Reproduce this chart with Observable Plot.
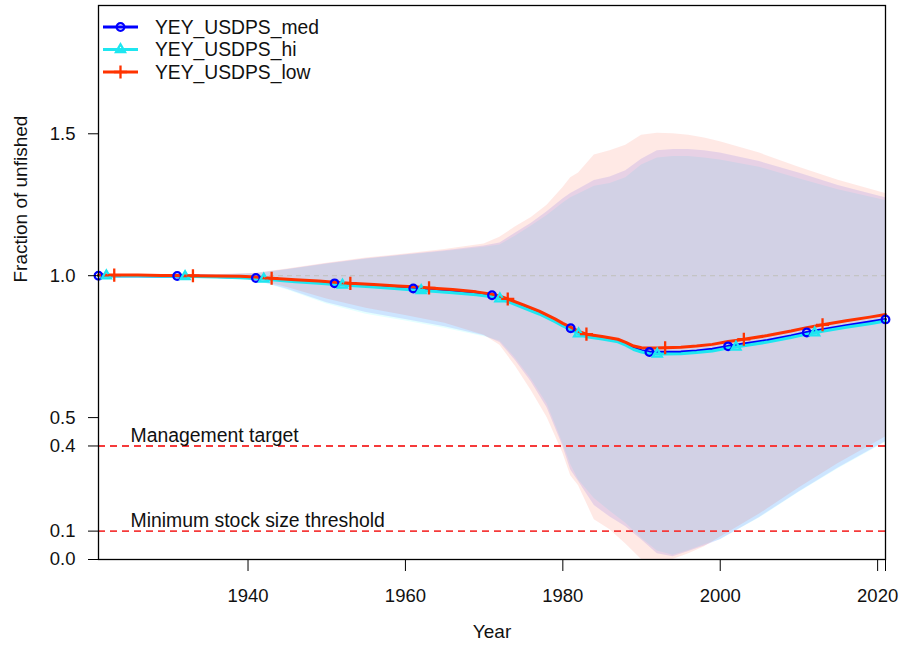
<!DOCTYPE html>
<html>
<head>
<meta charset="utf-8">
<script src="https://cdn.jsdelivr.net/npm/d3@7"></script>
<script src="https://cdn.jsdelivr.net/npm/@observablehq/plot@0.6"></script>
<style>
  html, body { margin: 0; padding: 0; background: #ffffff; }
  #chart svg { display: block; }
</style>
</head>
<body>
<div id="chart"></div>
<script>
// Spawning biomass as a fraction of unfished, three model runs
const lineYears = [1921,1922,1923,1926,1929,1931,1932,1933,1936,1939,
  1941,1942,1943,1946,1949,1951,1952,1953,1956,1959,
  1961,1962,1963,1966,1969,1971,1972,1973,1975,1977,1979,1980,
  1981,1982,1983,1985,1987,1988,1989,1990,1991,1992,1993,1995,1997,1999,
  2001,2002,2003,2006,2009,2011,2012,2013,2016,2019,2021];

const medFrac = [1.000,1.000,1.000,1.000,0.999,0.999,0.998,0.998,0.997,0.995,
  0.992,0.990,0.988,0.982,0.977,0.973,0.971,0.969,0.964,0.959,
  0.955,0.953,0.951,0.945,0.938,0.931,0.924,0.914,0.892,0.870,0.843,0.828,
  0.815,0.800,0.790,0.782,0.772,0.760,0.745,0.736,0.731,0.730,0.730,0.731,0.735,0.741,
  0.751,0.755,0.759,0.772,0.788,0.800,0.805,0.810,0.824,0.837,0.846];

const hiFrac = [1.000,1.000,0.999,0.999,0.998,0.998,0.997,0.997,0.995,0.993,
  0.990,0.988,0.986,0.979,0.973,0.969,0.967,0.965,0.960,0.954,
  0.950,0.948,0.946,0.940,0.933,0.926,0.919,0.909,0.887,0.865,0.838,0.823,
  0.810,0.795,0.785,0.777,0.767,0.755,0.740,0.731,0.725,0.724,0.724,0.725,0.729,0.735,
  0.745,0.749,0.753,0.766,0.782,0.794,0.799,0.804,0.818,0.831,0.840];

const lowFrac = [1.002,1.002,1.002,1.002,1.001,1.001,1.000,1.000,0.999,0.998,
  0.995,0.993,0.991,0.986,0.981,0.977,0.975,0.973,0.969,0.964,
  0.961,0.959,0.957,0.951,0.943,0.935,0.928,0.918,0.897,0.875,0.848,0.832,
  0.819,0.804,0.794,0.786,0.776,0.765,0.752,0.746,0.745,0.745,0.746,0.748,0.752,0.758,
  0.768,0.772,0.776,0.789,0.805,0.817,0.822,0.827,0.841,0.854,0.863];

// 95% intervals
const bandYears = [1921,1935,1938,1941,1945,1950,1955,1960,1965,1970,
  1972,1974,1976,1978,1980,1981,1982,1984,1986,1988,
  1990,1992,1994,1996,1998,2000,2005,2010,2015,2021];

const medLower = [1.000,0.999,0.995,0.983,0.952,0.905,0.870,0.846,0.820,0.788,
  0.765,0.700,0.625,0.535,0.400,0.315,0.275,0.190,0.150,0.115,
  0.070,0.020,0.010,0.028,0.048,0.070,0.148,0.238,0.322,0.415];
const medUpper = [1.002,1.003,1.005,1.008,1.022,1.042,1.060,1.074,1.088,1.105,
  1.115,1.150,1.185,1.225,1.270,1.290,1.305,1.335,1.348,1.370,
  1.410,1.440,1.445,1.445,1.440,1.432,1.402,1.362,1.318,1.275];

const hiLower = [1.000,0.999,0.995,0.982,0.950,0.900,0.864,0.840,0.815,0.785,
  0.770,0.708,0.635,0.548,0.410,0.335,0.280,0.215,0.170,0.128,
  0.075,0.030,0.015,0.032,0.052,0.070,0.146,0.236,0.320,0.412];
const hiUpper = [1.000,1.002,1.004,1.007,1.021,1.040,1.058,1.072,1.085,1.100,
  1.108,1.140,1.175,1.212,1.255,1.275,1.288,1.315,1.325,1.345,
  1.390,1.415,1.420,1.420,1.415,1.408,1.382,1.342,1.303,1.265];

const lowLower = [1.000,0.999,0.996,0.986,0.958,0.918,0.885,0.860,0.832,0.790,
  0.755,0.680,0.595,0.500,0.375,0.295,0.260,0.140,0.105,0.055,
  0.000,0.000,0.000,0.020,0.045,0.078,0.160,0.252,0.338,0.432];
const lowUpper = [1.002,1.003,1.005,1.009,1.024,1.044,1.062,1.076,1.092,1.112,
  1.135,1.172,1.205,1.248,1.310,1.345,1.362,1.425,1.440,1.460,
  1.495,1.502,1.500,1.495,1.485,1.472,1.432,1.382,1.336,1.290];

const seriesNames = ["YEY_USDPS_med", "YEY_USDPS_hi", "YEY_USDPS_low"];
const seriesColors = ["#0000ff", "#1ee6f0", "#ff3300"];
const bandColors = ["#0000ff", "#00ffff", "#ff2a00"];
const seriesSymbols = ["circle", "triangle2", "plus"];
const markerYearDigit = [1, 2, 3];   // points every 10 years, staggered per run

const refLevels = [0.4, 0.1];
const refLabels = ["Management target", "Minimum stock size threshold"];

const yTicks = [0, 0.1, 0.4, 0.5, 1.0, 1.5];
const xTicks = [1940, 1960, 1980, 2000, 2020, 2021];
const xTickLabels = ["1940", "1960", "1980", "2000", "2020", ""];

const xTitle = "Year";
const yTitle = "Fraction of unfished";

// ---- assemble tidy rows ----
const runs = [
  {values: medFrac, lower: medLower, upper: medUpper},
  {values: hiFrac, lower: hiLower, upper: hiUpper},
  {values: lowFrac, lower: lowLower, upper: lowUpper}
].map((r, i) => ({
  name: seriesNames[i],
  color: seriesColors[i],
  bandColor: bandColors[i],
  symbol: seriesSymbols[i],
  digit: markerYearDigit[i],
  line: lineYears.map((year, j) => ({year, value: r.values[j]})),
  band: bandYears.map((year, j) => ({year, lower: r.lower[j], upper: r.upper[j]}))
}));

const FONT = "'Liberation Sans', Arial, Helvetica, sans-serif";
const markerR = s => (s === "circle" ? 3.8 : 4.3);

// bands drawn hi, med, low so the low-run band tints the top
const bandOrder = [1, 0, 2];

const marks = [
  ...bandOrder.map(i => Plot.areaY(runs[i].band, {
    x: "year", y1: "lower", y2: "upper",
    fill: runs[i].bandColor, fillOpacity: 0.1, clip: true
  })),
  Plot.ruleY([1], {stroke: "#c4c4c4", strokeWidth: 1.2, strokeDasharray: "5,4"}),
  Plot.ruleY(refLevels, {stroke: "#f53a3a", strokeWidth: 1.8, strokeDasharray: "7,5"}),
  Plot.text(refLevels, {
    y: d => d, text: (d, i) => refLabels[i],
    frameAnchor: "left", dx: 32, dy: -10, textAnchor: "start",
    fontSize: 19.4, fill: "#111"
  }),
  ...runs.map(r => Plot.line(r.line, {
    x: "year", y: "value", stroke: r.color, strokeWidth: 3, curve: "linear"
  })),
  ...runs.map(r => Plot.dot(r.line.filter(d => d.year % 10 === r.digit), {
    x: "year", y: "value", symbol: () => r.symbol, r: markerR(r.symbol),
    stroke: r.color, strokeWidth: 2.3, fill: "none"
  })),
  Plot.frame({stroke: "#000", strokeWidth: 1.3}),
  Plot.axisY({
    ticks: yTicks, tickFormat: d3.format(".1f"),
    tickSize: 10, tickPadding: 13, fontSize: 18.5, label: null, stroke: "#000"
  }),
  Plot.axisX({
    ticks: xTicks, tickFormat: d => xTickLabels[xTicks.indexOf(d)],
    tickSize: 12, tickPadding: 17, fontSize: 18.5, label: null, stroke: "#000"
  }),
  Plot.text([xTitle], {frameAnchor: "bottom", dy: 78, fontSize: 19, fill: "#111"}),
  Plot.text([yTitle], {frameAnchor: "left", dx: -78, rotate: -90, fontSize: 19, fill: "#111"})
];

const chart = Plot.plot({
  width: 901,
  height: 650,
  marginLeft: 98,
  marginRight: 16,
  marginTop: 5,
  marginBottom: 91,
  x: {domain: [1921, 2021]},
  y: {domain: [0, 1.952]},
  symbol: {type: "identity"},
  style: {fontFamily: FONT, fontSize: "18.5px", background: "#ffffff", color: "#111"},
  marks
});

// legend, top-left inside the frame
const svg = d3.select(chart);
const legend = svg.append("g")
  .attr("font-family", FONT).attr("font-size", 19.3).attr("text-anchor", "start");
runs.forEach((r, i) => {
  const g = legend.append("g").attr("transform", `translate(0,${27 + i * 22.5})`);
  g.append("line").attr("x1", 103).attr("x2", 138).attr("y1", 0).attr("y2", 0)
    .attr("stroke", r.color).attr("stroke-width", 3);
  const sym = {circle: d3.symbolCircle, triangle2: d3.symbolTriangle2, plus: d3.symbolPlus}[r.symbol];
  const rr = markerR(r.symbol);
  g.append("path").attr("transform", "translate(120.5,0)")
    .attr("d", d3.symbol(sym, Math.PI * rr * rr)())
    .attr("fill", "none").attr("stroke", r.color).attr("stroke-width", 2.3);
  g.append("text").attr("x", 155).attr("y", 0).attr("dy", "0.35em")
    .attr("text-anchor", "start").attr("fill", "#111").text(r.name);
});

document.getElementById("chart").appendChild(chart);
</script>
</body>
</html>
